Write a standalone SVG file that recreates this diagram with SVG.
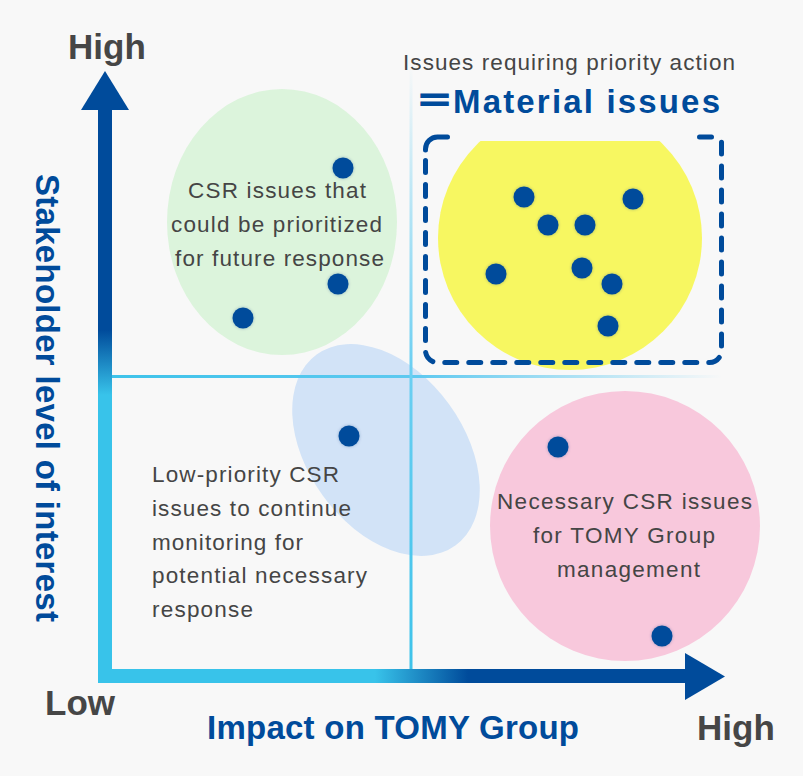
<svg xmlns="http://www.w3.org/2000/svg" width="803" height="776" viewBox="0 0 803 776">
  <style>
    .dot { fill: #004b9b; filter: url(#glow); }
    .qt { font-family: "Liberation Sans", Arial, sans-serif; font-size: 22.5px; fill: #454545; }
    .ax { font-family: "Liberation Sans", Arial, sans-serif; font-size: 35px; font-weight: bold; fill: #464646; }
    .lbl { font-family: "Liberation Sans", Arial, sans-serif; font-size: 33px; font-weight: bold; fill: #004b9b; }
    .dash { fill: none; stroke: #004b9b; stroke-width: 5; stroke-linecap: round; stroke-linejoin: round; }
  </style>
  <defs>
    <filter id="glow" x="-50%" y="-50%" width="200%" height="200%">
      <feDropShadow dx="0" dy="0" stdDeviation="1.4" flood-color="#003a80" flood-opacity="0.35"/>
    </filter>
    <linearGradient id="gV" gradientUnits="userSpaceOnUse" x1="0" y1="330" x2="0" y2="395">
      <stop offset="0" stop-color="#004b9b"/>
      <stop offset="1" stop-color="#38c3ea"/>
    </linearGradient>
    <linearGradient id="gH" gradientUnits="userSpaceOnUse" x1="375" y1="0" x2="468" y2="0">
      <stop offset="0" stop-color="#38c3ea"/>
      <stop offset="1" stop-color="#004b9b"/>
    </linearGradient>
    <linearGradient id="gDivH" gradientUnits="userSpaceOnUse" x1="112" y1="0" x2="722" y2="0">
      <stop offset="0" stop-color="#3ec3ea"/>
      <stop offset="0.5" stop-color="#5ec9f0"/>
      <stop offset="1" stop-color="#5ec9f0" stop-opacity="0"/>
    </linearGradient>
    <linearGradient id="gDivV" gradientUnits="userSpaceOnUse" x1="0" y1="669" x2="0" y2="65">
      <stop offset="0" stop-color="#3ec3ea"/>
      <stop offset="0.5" stop-color="#6ccff2"/>
      <stop offset="1" stop-color="#6ccff2" stop-opacity="0"/>
    </linearGradient>
    <clipPath id="clipY">
      <rect x="400" y="141" width="340" height="240"/>
    </clipPath>
  </defs>

  <rect width="803" height="776" fill="#f8f8f8"/>

  <g id="quadrant-future">
    <ellipse cx="282" cy="222" rx="115" ry="133" fill="#dcf4dc"/>
    <text class="qt" x="188" y="198" textLength="178" lengthAdjust="spacing">CSR issues that</text>
    <text class="qt" x="171" y="232" textLength="211" lengthAdjust="spacing">could be prioritized</text>
    <text class="qt" x="175" y="266" textLength="209" lengthAdjust="spacing">for future response</text>
    <circle class="dot" cx="343" cy="168" r="10.5"/>
    <circle class="dot" cx="338" cy="284" r="10.5"/>
    <circle class="dot" cx="243" cy="318" r="10.5"/>
  </g>

  <g id="quadrant-low">
    <ellipse cx="386" cy="450" rx="78" ry="118" transform="rotate(-36 386 450)" fill="#d2e3f7"/>
  </g>

  <g id="quadrant-management">
    <circle cx="625" cy="526" r="135" fill="#f8c8dc"/>
    <text class="qt" x="497" y="509" textLength="255" lengthAdjust="spacing">Necessary CSR issues</text>
    <text class="qt" x="533" y="543" textLength="182" lengthAdjust="spacing">for TOMY Group</text>
    <text class="qt" x="557" y="577" textLength="143" lengthAdjust="spacing">management</text>
    <circle class="dot" cx="558" cy="447" r="10.5"/>
    <circle class="dot" cx="662" cy="636" r="10.5"/>
  </g>

  <g id="material-issues">
    <circle cx="570" cy="238" r="132" fill="#f7f761" clip-path="url(#clipY)"/>
    <path class="dash" d="M447.5,137 H437.5 A12,12 0 0 0 425.5,149 V150"/>
    <path class="dash" d="M425.5,160.5 V350.5 A12,12 0 0 0 437.5,362.5 H709.5 A12,12 0 0 0 721.5,350.5 V142.2" stroke-dasharray="12 12"/>
    <path class="dash" d="M699.5,137 H711.5"/>
    <text x="403" y="70" font-family="Liberation Sans, Arial, sans-serif" font-size="22.5" fill="#454545" textLength="332" lengthAdjust="spacing">Issues requiring priority action</text>
    <text transform="translate(415.5,112.5) scale(1.12,1)" x="0" y="0" font-family="Noto Sans CJK JP, sans-serif" font-size="34" font-weight="bold" fill="#004b9b" stroke="#004b9b" stroke-width="1.2">＝</text>
    <text class="lbl" x="453" y="113" textLength="267" lengthAdjust="spacing">Material issues</text>
    <circle class="dot" cx="524" cy="197" r="10.5"/>
    <circle class="dot" cx="633" cy="199" r="10.5"/>
    <circle class="dot" cx="548" cy="225" r="10.5"/>
    <circle class="dot" cx="585" cy="225" r="10.5"/>
    <circle class="dot" cx="496" cy="274" r="10.5"/>
    <circle class="dot" cx="582" cy="268" r="10.5"/>
    <circle class="dot" cx="612" cy="284" r="10.5"/>
    <circle class="dot" cx="608" cy="326" r="10.5"/>
  </g>

  <g id="dividers">
    <rect x="112" y="375" width="610" height="3" fill="url(#gDivH)"/>
    <rect x="409.5" y="65" width="3" height="604" fill="url(#gDivV)"/>
  </g>

  <g id="quadrant-low-content">
    <text class="qt" x="152" y="482" textLength="187" lengthAdjust="spacing">Low-priority CSR</text>
    <text class="qt" x="152" y="516" textLength="199" lengthAdjust="spacing">issues to continue</text>
    <text class="qt" x="152" y="550" textLength="151" lengthAdjust="spacing">monitoring for</text>
    <text class="qt" x="152" y="583" textLength="215" lengthAdjust="spacing">potential necessary</text>
    <text class="qt" x="152" y="617" textLength="101" lengthAdjust="spacing">response</text>
    <circle class="dot" cx="349" cy="436" r="10.5"/>
  </g>

  <g id="connectors">
    <rect x="98" y="108" width="14" height="575" fill="url(#gV)"/>
    <rect x="98" y="669" width="589" height="14" fill="url(#gH)"/>
    <polygon points="81,110 105,71 129,110" fill="#004b9b"/>
    <polygon points="685,653 725,676.5 685,700" fill="#004b9b"/>
  </g>

  <g id="axis-labels">
    <text class="ax" x="68" y="59">High</text>
    <text class="ax" x="45" y="715">Low</text>
    <text class="ax" x="697" y="740">High</text>
    <text class="lbl" x="207" y="739" textLength="372" lengthAdjust="spacing">Impact on TOMY Group</text>
    <text class="lbl" transform="translate(36,174) rotate(90)" x="0" y="0" textLength="448" lengthAdjust="spacing">Stakeholder level of interest</text>
  </g>
</svg>
